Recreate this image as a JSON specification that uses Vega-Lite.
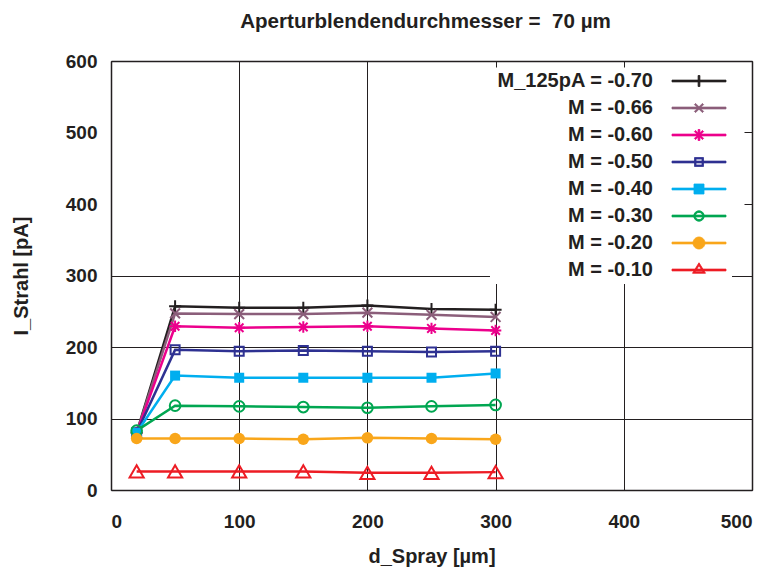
{
  "$schema": "https://vega.github.io/schema/vega-lite/v6.json",
  "width": 641,
  "height": 429,
  "autosize": {"type": "none"},
  "padding": {"left": 111, "top": 61, "right": 19, "bottom": 85},
  "background": "white",
  "config": {
    "view": {"stroke": null},
    "font": "Liberation Sans",
    "axis": {"labelFont": "Liberation Sans", "titleFont": "Liberation Sans"}
  },
  "title": {
    "text": "Aperturblendendurchmesser =\u00a0 70 µm",
    "font": "Liberation Sans",
    "fontSize": 20.6,
    "fontWeight": "bold",
    "color": "#231f20",
    "anchor": "middle",
    "baseline": "alphabetic",
    "offset": 3,
    "dx": -6
  },
  "data": {
    "values": [
      {"series": "M_125pA = -0.70", "d": 20, "I": 80},
      {"series": "M_125pA = -0.70", "d": 50, "I": 257},
      {"series": "M_125pA = -0.70", "d": 100, "I": 255},
      {"series": "M_125pA = -0.70", "d": 150, "I": 255},
      {"series": "M_125pA = -0.70", "d": 200, "I": 258},
      {"series": "M_125pA = -0.70", "d": 250, "I": 253},
      {"series": "M_125pA = -0.70", "d": 300, "I": 252},
      {"series": "M = -0.66", "d": 20, "I": 80},
      {"series": "M = -0.66", "d": 50, "I": 247},
      {"series": "M = -0.66", "d": 100, "I": 246},
      {"series": "M = -0.66", "d": 150, "I": 246},
      {"series": "M = -0.66", "d": 200, "I": 248},
      {"series": "M = -0.66", "d": 250, "I": 245},
      {"series": "M = -0.66", "d": 300, "I": 242},
      {"series": "M = -0.60", "d": 20, "I": 80},
      {"series": "M = -0.60", "d": 50, "I": 229},
      {"series": "M = -0.60", "d": 100, "I": 227},
      {"series": "M = -0.60", "d": 150, "I": 228},
      {"series": "M = -0.60", "d": 200, "I": 229},
      {"series": "M = -0.60", "d": 250, "I": 226},
      {"series": "M = -0.60", "d": 300, "I": 223},
      {"series": "M = -0.50", "d": 20, "I": 80},
      {"series": "M = -0.50", "d": 50, "I": 196},
      {"series": "M = -0.50", "d": 100, "I": 194},
      {"series": "M = -0.50", "d": 150, "I": 195},
      {"series": "M = -0.50", "d": 200, "I": 194},
      {"series": "M = -0.50", "d": 250, "I": 193},
      {"series": "M = -0.50", "d": 300, "I": 194},
      {"series": "M = -0.40", "d": 20, "I": 80},
      {"series": "M = -0.40", "d": 50, "I": 160},
      {"series": "M = -0.40", "d": 100, "I": 157},
      {"series": "M = -0.40", "d": 150, "I": 157},
      {"series": "M = -0.40", "d": 200, "I": 157},
      {"series": "M = -0.40", "d": 250, "I": 157},
      {"series": "M = -0.40", "d": 300, "I": 163},
      {"series": "M = -0.30", "d": 20, "I": 83},
      {"series": "M = -0.30", "d": 50, "I": 118},
      {"series": "M = -0.30", "d": 100, "I": 117},
      {"series": "M = -0.30", "d": 150, "I": 116},
      {"series": "M = -0.30", "d": 200, "I": 115},
      {"series": "M = -0.30", "d": 250, "I": 117},
      {"series": "M = -0.30", "d": 300, "I": 119},
      {"series": "M = -0.20", "d": 20, "I": 72},
      {"series": "M = -0.20", "d": 50, "I": 72},
      {"series": "M = -0.20", "d": 100, "I": 72},
      {"series": "M = -0.20", "d": 150, "I": 71},
      {"series": "M = -0.20", "d": 200, "I": 73},
      {"series": "M = -0.20", "d": 250, "I": 72},
      {"series": "M = -0.20", "d": 300, "I": 71},
      {"series": "M = -0.10", "d": 20, "I": 26},
      {"series": "M = -0.10", "d": 50, "I": 26},
      {"series": "M = -0.10", "d": 100, "I": 26},
      {"series": "M = -0.10", "d": 150, "I": 26},
      {"series": "M = -0.10", "d": 200, "I": 24},
      {"series": "M = -0.10", "d": 250, "I": 24},
      {"series": "M = -0.10", "d": 300, "I": 25}
    ]
  },
  "resolve": {"axis": {"x": "independent", "y": "independent"}},
  "layer": [
    {
      "mark": {"type": "line", "strokeWidth": 2.5},
      "encoding": {
        "x": {
          "field": "d", "type": "quantitative",
          "scale": {"domain": [0, 500], "nice": false, "zero": false},
          "axis": {
            "title": "d_Spray [µm]", "values": [0, 100, 200, 300, 400, 500],
            "grid": true, "gridColor": "#231f20", "gridOpacity": 1, "gridWidth": 1,
            "domain": true, "domainColor": "#231f20", "domainWidth": 1.5,
            "ticks": false, "labelPadding": 22, "labelFontSize": 19, "labelFontWeight": "bold",
            "labelColor": "#231f20", "titleFontSize": 20, "titleFontWeight": "bold",
            "titleColor": "#231f20", "titlePadding": 15, "zindex": 0
          }
        },
        "y": {
          "field": "I", "type": "quantitative",
          "scale": {"domain": [0, 600], "nice": false, "zero": false},
          "axis": {
            "title": "I_Strahl [pA]", "values": [0, 100, 200, 300, 400, 500, 600],
            "grid": true, "gridColor": "#231f20", "gridWidth": 1,
            "gridOpacity": {"condition": {"test": "datum.value >= 400", "value": 0}, "value": 1},
            "domain": true, "domainColor": "#231f20", "domainWidth": 1.5,
            "ticks": false, "labelPadding": 14, "labelFontSize": 19, "labelFontWeight": "bold",
            "labelColor": "#231f20", "titleFontSize": 20, "titleFontWeight": "bold",
            "titleColor": "#231f20", "titlePadding": 34, "zindex": 0
          }
        },
        "color": {
          "field": "series", "type": "nominal",
          "scale": {
            "domain": ["M_125pA = -0.70", "M = -0.66", "M = -0.60", "M = -0.50", "M = -0.40", "M = -0.30", "M = -0.20", "M = -0.10"],
            "range": ["#231f20", "#8b5e7a", "#ec008c", "#2e3192", "#00aeef", "#00a651", "#f9a61a", "#ed1c24"]
          },
          "legend": {
            "orient": "none", "legendX": 379, "legendY": 6,
            "title": null, "fillColor": "white", "padding": 4,
            "labelFont": "Liberation Sans", "labelFontSize": 20, "labelFontWeight": "bold",
            "labelColor": "#231f20", "labelAlign": "right", "labelOffset": -56,
            "symbolOffset": 195, "symbolSize": 100, "symbolStrokeWidth": 0.8,
            "symbolOpacity": 1, "rowPadding": 7, "zindex": 1
          }
        }
      }
    },
    {
      "transform": [{"filter": "datum.series === 'M_125pA = -0.70'"}],
      "mark": {"type": "point", "shape": "M-1,0L1,0M0,-1L0,1", "size": 144, "filled": false, "strokeWidth": 2, "opacity": 1},
      "encoding": {
        "x": {
          "field": "d", "type": "quantitative",
          "axis": {"orient": "top", "title": null, "labels": false, "grid": false,
            "values": [0, 100, 200, 300, 400, 500], "ticks": true, "tickSize": -6,
            "tickColor": "#231f20", "tickWidth": 1, "domain": true, "domainColor": "#231f20", "domainWidth": 1.5, "zindex": 2}
        },
        "y": {
          "field": "I", "type": "quantitative",
          "axis": {"orient": "right", "title": null, "labels": false, "grid": false,
            "values": [0, 100, 200, 300, 400, 500, 600], "ticks": true, "tickSize": -8,
            "tickColor": "#231f20", "tickWidth": 1, "domain": true, "domainColor": "#231f20", "domainWidth": 1.5, "zindex": 2}
        },
        "color": {"field": "series", "type": "nominal"}
      }
    },
    {
      "transform": [{"filter": "datum.series === 'M = -0.66'"}],
      "mark": {"type": "point", "shape": "M-0.8,-0.8L0.8,0.8M-0.8,0.8L0.8,-0.8", "size": 150, "filled": false, "strokeWidth": 2, "opacity": 1},
      "encoding": {
        "x": {"field": "d", "type": "quantitative", "axis": null},
        "y": {"field": "I", "type": "quantitative", "axis": null},
        "color": {"field": "series", "type": "nominal"}
      }
    },
    {
      "transform": [{"filter": "datum.series === 'M = -0.60'"}],
      "mark": {"type": "point", "shape": "M-1,0L1,0M0,-1L0,1M-0.75,-0.75L0.75,0.75M-0.75,0.75L0.75,-0.75", "size": 130, "filled": false, "strokeWidth": 2, "opacity": 1},
      "encoding": {
        "x": {"field": "d", "type": "quantitative", "axis": null},
        "y": {"field": "I", "type": "quantitative", "axis": null},
        "color": {"field": "series", "type": "nominal"}
      }
    },
    {
      "transform": [{"filter": "datum.series === 'M = -0.50'"}],
      "mark": {"type": "point", "shape": "square", "size": 81, "filled": false, "strokeWidth": 2, "opacity": 1},
      "encoding": {
        "x": {"field": "d", "type": "quantitative", "axis": null},
        "y": {"field": "I", "type": "quantitative", "axis": null},
        "color": {"field": "series", "type": "nominal"}
      }
    },
    {
      "transform": [{"filter": "datum.series === 'M = -0.40'"}],
      "mark": {"type": "point", "shape": "square", "size": 100, "filled": true, "opacity": 1},
      "encoding": {
        "x": {"field": "d", "type": "quantitative", "axis": null},
        "y": {"field": "I", "type": "quantitative", "axis": null},
        "color": {"field": "series", "type": "nominal"}
      }
    },
    {
      "transform": [{"filter": "datum.series === 'M = -0.30'"}],
      "mark": {"type": "point", "shape": "circle", "size": 113, "filled": false, "strokeWidth": 2, "opacity": 1},
      "encoding": {
        "x": {"field": "d", "type": "quantitative", "axis": null},
        "y": {"field": "I", "type": "quantitative", "axis": null},
        "color": {"field": "series", "type": "nominal"}
      }
    },
    {
      "transform": [{"filter": "datum.series === 'M = -0.20'"}],
      "mark": {"type": "point", "shape": "circle", "size": 133, "filled": true, "opacity": 1},
      "encoding": {
        "x": {"field": "d", "type": "quantitative", "axis": null},
        "y": {"field": "I", "type": "quantitative", "axis": null},
        "color": {"field": "series", "type": "nominal"}
      }
    },
    {
      "transform": [{"filter": "datum.series === 'M = -0.10'"}],
      "mark": {"type": "point", "shape": "triangle-up", "size": 200, "filled": false, "strokeWidth": 2, "opacity": 1},
      "encoding": {
        "x": {"field": "d", "type": "quantitative", "axis": null},
        "y": {"field": "I", "type": "quantitative", "axis": null},
        "color": {"field": "series", "type": "nominal"}
      }
    },
    {
      "transform": [{"filter": "false"}],
      "mark": {"type": "point", "filled": true, "opacity": 1},
      "encoding": {
        "x": {"field": "d", "type": "quantitative", "axis": null},
        "y": {"field": "I", "type": "quantitative", "axis": null},
        "color": {"field": "series", "type": "nominal"},
        "shape": {
          "field": "series", "type": "nominal", "legend": null,
          "scale": {
            "domain": ["M_125pA = -0.70", "M = -0.66", "M = -0.60", "M = -0.50", "M = -0.40", "M = -0.30", "M = -0.20", "M = -0.10"],
            "range": [
              "M-5.4,-0.18L5.4,-0.18L5.4,0.18L-5.4,0.18ZM-0.18,-1.1L0.18,-1.1L0.18,1.1L-0.18,1.1Z",
              "M-5.4,-0.18L5.4,-0.18L5.4,0.18L-5.4,0.18ZM-0.68,-0.92L0.92,0.68L0.68,0.92L-0.92,-0.68ZM-0.92,0.68L0.68,-0.92L0.92,-0.68L-0.68,0.92Z",
              "M-5.4,-0.18L5.4,-0.18L5.4,0.18L-5.4,0.18ZM-0.18,-1.1L0.18,-1.1L0.18,1.1L-0.18,1.1ZM-0.68,-0.92L0.92,0.68L0.68,0.92L-0.92,-0.68ZM-0.92,0.68L0.68,-0.92L0.92,-0.68L-0.68,0.92Z",
              "M-5.4,-0.18L5.4,-0.18L5.4,0.18L-5.4,0.18ZM-0.9,-0.9L0.9,-0.9L0.9,0.9L-0.9,0.9ZM-0.6,-0.6L-0.6,0.6L0.6,0.6L0.6,-0.6Z",
              "M-5.4,-0.18L5.4,-0.18L5.4,0.18L-5.4,0.18ZM-1,-1L1,-1L1,1L-1,1Z",
              "M-5.4,-0.18L5.4,-0.18L5.4,0.18L-5.4,0.18ZM-1.05,0A1.05,1.05,0,1,1,1.05,0A1.05,1.05,0,1,1,-1.05,0ZM-0.72,0A0.72,0.72,0,1,0,0.72,0A0.72,0.72,0,1,0,-0.72,0Z",
              "M-5.4,-0.18L5.4,-0.18L5.4,0.18L-5.4,0.18ZM-1.2,0A1.2,1.2,0,1,1,1.2,0A1.2,1.2,0,1,1,-1.2,0Z",
              "M-5.4,-0.18L5.4,-0.18L5.4,0.18L-5.4,0.18ZM0,-1.45L1.3,0.65L-1.3,0.65ZM0,-0.9L-0.75,0.35L0.75,0.35Z"
            ]
          }
        }
      }
    }
  ]
}
